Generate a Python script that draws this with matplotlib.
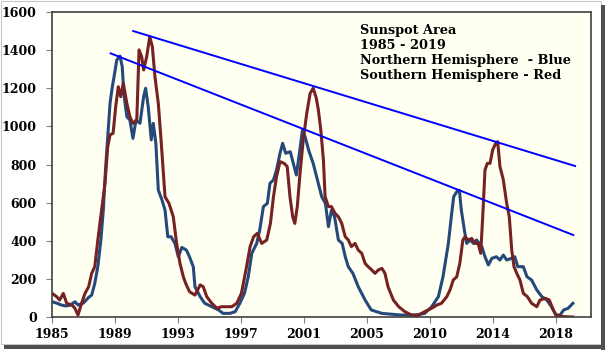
import matplotlib.pyplot as plt
from matplotlib.patches import Rectangle

# Northern hemisphere (blue) - decimal year, sunspot area
north_years = [1985.0, 1985.3, 1985.6, 1985.9, 1986.2, 1986.5, 1986.7, 1987.05, 1987.4, 1987.6,
               1987.8, 1988.0, 1988.2, 1988.36, 1988.5, 1988.65, 1988.8, 1988.95, 1989.1, 1989.24,
               1989.45, 1989.6, 1989.7, 1989.9, 1990.1, 1990.3, 1990.5, 1990.76, 1991.0, 1991.13,
               1991.3, 1991.5, 1991.63, 1991.8, 1991.96, 1992.2, 1992.4, 1992.58, 1992.8, 1993.05,
               1993.27, 1993.5, 1993.8, 1994.0, 1994.25, 1994.36, 1994.7, 1995.0, 1995.46, 1995.9,
               1996.2, 1996.65, 1997.0, 1997.3, 1997.6, 1997.85, 1998.08, 1998.4, 1998.6, 1998.84,
               1999.1, 1999.27, 1999.5, 1999.7, 1999.93, 2000.1, 2000.3, 2000.6, 2000.8, 2001.0,
               2001.2, 2001.4, 2001.57, 2001.8, 2002.1, 2002.44, 2002.66, 2002.9, 2003.1, 2003.3,
               2003.5, 2003.75, 2004.0, 2004.2, 2004.4, 2004.7, 2005.05, 2005.5, 2005.9, 2006.6,
               2007.9, 2008.8, 2009.4, 2009.86, 2010.3, 2010.6, 2010.95, 2011.17, 2011.3, 2011.5,
               2011.67, 2011.8, 2012.0, 2012.15, 2012.37, 2012.6, 2012.8, 2013.14, 2013.35, 2013.57,
               2013.8, 2014.1, 2014.33, 2014.55, 2014.77, 2015.1, 2015.3, 2015.5, 2015.86, 2016.1,
               2016.4, 2016.74, 2017.07, 2017.4, 2017.7, 2018.0, 2018.26, 2018.5, 2018.8, 2019.1]
north_area = [80, 73, 63, 58, 62, 80, 63, 73, 103, 115,
              177, 264, 404, 561, 771, 946, 1121, 1208, 1278, 1348,
              1369, 1313, 1173, 1051, 1033, 937, 1033, 1016, 1156, 1200,
              1103, 929, 1016, 911, 666, 614, 561, 421, 421, 386,
              316, 365, 351, 316, 264, 159, 107, 72, 54, 37,
              19, 19, 28, 72, 124, 211, 334, 386, 456, 579,
              596, 701, 719, 771, 859, 911, 859, 867, 806, 745,
              859, 981, 946, 876, 806, 701, 631, 596, 474, 561,
              526, 404, 386, 316, 264, 229, 159, 89, 37, 19,
              10, 10, 19, 54, 107, 211, 386, 544, 631, 657,
              665, 561, 456, 386, 404, 386, 404, 369, 316, 273,
              308, 316, 299, 325, 299, 308, 316, 264, 264, 211,
              194, 142, 107, 89, 54, 10, 10, 37, 46, 72]

# Southern hemisphere (red)
south_years = [1985.0, 1985.3, 1985.5, 1985.74, 1985.96, 1986.3, 1986.5, 1986.7, 1986.94, 1987.16,
               1987.4, 1987.6, 1987.8, 1988.0, 1988.25, 1988.47, 1988.65, 1988.8, 1989.0, 1989.17,
               1989.34, 1989.5, 1989.67, 1989.9, 1990.1, 1990.3, 1990.55, 1990.7, 1990.87, 1991.0,
               1991.2, 1991.4, 1991.57, 1991.74, 1991.96, 1992.14, 1992.4, 1992.66, 1992.94, 1993.16,
               1993.38, 1993.6, 1993.75, 1994.0, 1994.36, 1994.7, 1994.9, 1995.13, 1995.46, 1995.8,
               1996.1, 1996.44, 1996.77, 1997.1, 1997.4, 1997.7, 1997.97, 1998.2, 1998.44, 1998.73,
               1999.06, 1999.3, 1999.5, 1999.7, 1999.93, 2000.2, 2000.4, 2000.58, 2000.76, 2000.9,
               2001.06, 2001.24, 2001.45, 2001.68, 2001.9, 2002.1, 2002.3, 2002.44, 2002.6, 2002.77,
               2002.88, 2003.1, 2003.3, 2003.53, 2003.75, 2003.97, 2004.2, 2004.4, 2004.6, 2004.84,
               2005.05, 2005.28, 2005.5, 2005.7, 2005.93, 2006.15, 2006.37, 2006.6, 2006.8, 2007.0,
               2007.35, 2007.7, 2008.1, 2008.55, 2009.0, 2009.4, 2009.86, 2010.2, 2010.5, 2010.85,
               2011.06, 2011.27, 2011.5, 2011.7, 2011.9, 2012.04, 2012.26, 2012.48, 2012.7, 2012.9,
               2013.07, 2013.2, 2013.35, 2013.5, 2013.68, 2013.85, 2014.05, 2014.18, 2014.33, 2014.55,
               2014.77, 2014.94, 2015.1, 2015.25, 2015.43, 2015.64, 2015.86, 2016.12, 2016.4, 2016.74,
               2016.95, 2017.3, 2017.56, 2017.82, 2018.0, 2018.5, 2019.1]
south_area = [124, 107, 89, 124, 72, 63, 46, 10, 72, 124,
              159, 229, 264, 404, 561, 701, 894, 955, 964, 1103,
              1208, 1156, 1226, 1121, 1051, 1016, 1033, 1401, 1366, 1296,
              1366, 1470, 1418, 1261, 1121, 929, 631, 596, 526, 386,
              281, 211, 177, 133, 115, 168, 159, 107, 72, 46,
              54, 54, 54, 72, 124, 247, 369, 421, 439, 386,
              404, 491, 631, 736, 815, 806, 789, 631, 526, 491,
              579, 754, 929, 1069, 1173, 1200, 1150, 1086, 981, 824,
              631, 579, 579, 544, 526, 491, 421, 404, 369, 386,
              351, 334, 281, 264, 247, 229, 247, 255, 229, 159,
              89, 54, 28, 10, 10, 28, 46, 63, 72, 107,
              142, 194, 211, 281, 404, 421, 404, 412, 386, 386,
              334, 526, 771, 806, 806, 876, 911, 920, 789, 719,
              596, 526, 351, 264, 229, 194, 124, 107, 72, 54,
              89, 98, 89, 37, 10, 2, 0]

# trend lines (start, end)
upper_trend_x = [1990.32, 2019.25]
upper_trend_y = [1500, 792]
lower_trend_x = [1988.84, 2019.13]
lower_trend_y = [1383, 430]

# category axis labels (one every 4.125 years of data)
tick_pos = [1985 + 4.125 * k for k in range(9)]
tick_labels = ['1985', '1989', '1993', '1997', '2001', '2005', '2010', '2014', '2018']

plt.rcParams['font.family'] = ['DejaVu Serif']
plt.rcParams['font.weight'] = 'bold'

fig = plt.figure(figsize=(6.06, 3.5), dpi=100)
fig.patch.set_facecolor('white')
ax = fig.add_axes([52 / 606, 1 - 317 / 350, 539 / 606, 305 / 350])
ax.set_facecolor('#FFFFF2')

ax.plot(north_years, north_area, color='#24497A', lw=2.2, solid_joinstyle='round')
ax.plot(south_years, south_area, color='#772222', lw=2.2, solid_joinstyle='round')
ax.plot(upper_trend_x, upper_trend_y, color='#0000FF', lw=1.4)
ax.plot(lower_trend_x, lower_trend_y, color='#0000FF', lw=1.4)

ax.set_xlim(1985, 2020.29)
ax.set_ylim(0, 1600)
ax.set_xticks(tick_pos)
ax.set_xticklabels(tick_labels)
ax.set_yticks(range(0, 1601, 200))
ax.tick_params(axis='both', labelsize=9, length=4, width=0.8, color='#808080', direction='out')
ax.tick_params(axis='x', pad=4)
ax.tick_params(axis='y', pad=7)
for s in ax.spines.values():
    s.set_color('#404040')
    s.set_linewidth(1.2)

ax.text(360 / 606, 1 - 24 / 350,
        'Sunspot Area\n1985 - 2019\nNorthern Hemisphere  - Blue\nSouthern Hemisphere - Red',
        transform=fig.transFigure, fontsize=9.3, fontweight='bold', va='top', ha='left',
        linespacing=1.2)

# picture frame with shadow
fig.patches.append(Rectangle((0.5 / 606, 1 - 344 / 350), 600 / 606, 343.5 / 350,
                             transform=fig.transFigure, fill=False, ec='#C8C8C8', lw=0.8))
fig.patches.append(Rectangle((601 / 606, 0), 4 / 606, 345 / 350,
                             transform=fig.transFigure, fc='#505050', ec='none'))
fig.patches.append(Rectangle((4 / 606, 1 - 349 / 350), 601 / 606, 4 / 350,
                             transform=fig.transFigure, fc='#505050', ec='none'))

fig.savefig('out.png', dpi=100)
